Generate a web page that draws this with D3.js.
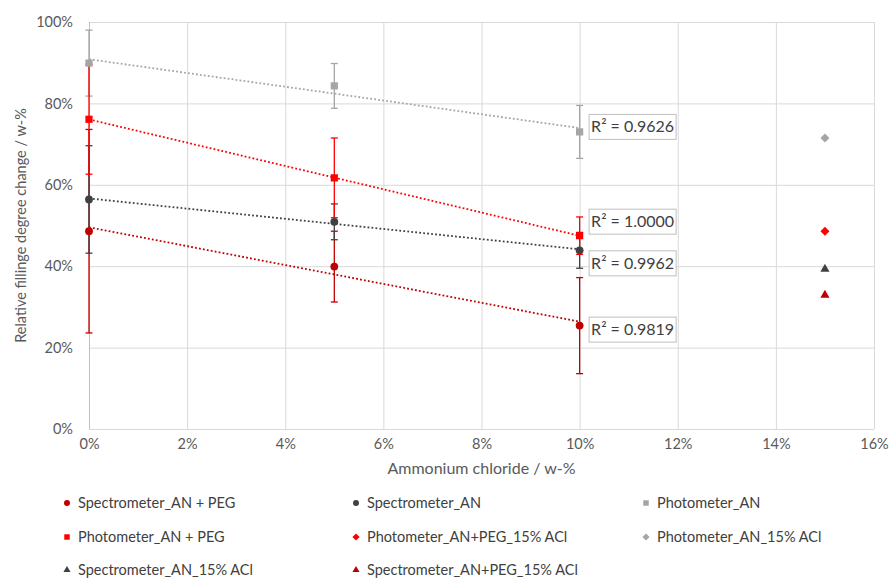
<!DOCTYPE html>
<html>
<head>
<meta charset="utf-8">
<script src="https://cdn.jsdelivr.net/npm/d3@7"></script>
<style>
  html, body { margin: 0; padding: 0; background: #fff; }
  svg { display: block; font-family: Lato, "Open Sans", sans-serif; }
</style>
</head>
<body>
<svg id="chart" width="889" height="579"></svg>
<script>
// ---- data ----
const xValues = [0, 5, 10];                 // ammonium chloride, %
const specPEG      = [48.6, 39.9, 25.4];
const specPEGErr   = [25.0, 8.7, 11.8];
const specAN       = [56.4, 50.9, 43.9];
const specANErr    = [13.2, 4.4, 4.4];
const photoAN      = [89.9, 84.3, 73.0];
const photoANErr   = [8.1, 5.5, 6.5];
const photoPEG     = [76.1, 61.7, 47.5];
const photoPEGErr  = [13.5, 9.8, 4.6];
const x15 = 15;
const photoPEG15 = 48.6;
const photoAN15  = 71.5;
const specAN15   = 39.3;
const specPEG15  = 32.9;
const rSquaredLabels = ["R² = 0.9819", "R² = 0.9962", "R² = 0.9626", "R² = 1.0000"];
const xTicks = [0, 2, 4, 6, 8, 10, 12, 14, 16];
const yTicks = [0, 20, 40, 60, 80, 100];
const legendLabels = [
  "Spectrometer_AN + PEG", "Spectrometer_AN", "Photometer_AN",
  "Photometer_AN + PEG", "Photometer_AN+PEG_15% ACl", "Photometer_AN_15% ACl",
  "Spectrometer_AN_15% ACl", "Spectrometer_AN+PEG_15% ACl"
];

// ---- layout ----
const m = { left: 89, right: 874, top: 22, bottom: 429 };
const x = d3.scaleLinear().domain([0, 16]).range([m.left, m.right]);
const y = d3.scaleLinear().domain([0, 100]).range([m.bottom, m.top]);

const C = { darkRed: "#C00000", red: "#FF0000", gray: "#A5A5A5", dark: "#404040" };
const svg = d3.select("#chart");

// gridlines
const grid = svg.append("g");
grid.selectAll("line.h").data(yTicks).join("line")
  .attr("x1", m.left).attr("x2", m.right)
  .attr("y1", d => y(d) + 0.5).attr("y2", d => y(d) + 0.5)
  .attr("stroke", "#D9D9D9").attr("stroke-width", 1);
grid.selectAll("line.v").data(xTicks).join("line")
  .attr("y1", m.top).attr("y2", m.bottom)
  .attr("x1", d => x(d) + 0.5).attr("x2", d => x(d) + 0.5)
  .attr("stroke", "#D9D9D9").attr("stroke-width", 1);

// axes (labels only)
const xAxis = svg.append("g").attr("transform", `translate(0,${m.bottom})`)
  .call(d3.axisBottom(x).tickValues(xTicks).tickFormat(d => d + "%").tickSize(0).tickPadding(10));
const yAxis = svg.append("g").attr("transform", `translate(${m.left},0)`)
  .call(d3.axisLeft(y).tickValues(yTicks).tickFormat(d => d + "%").tickSize(0).tickPadding(16));
[xAxis, yAxis].forEach(a => {
  a.select(".domain").remove();
  a.selectAll("text").attr("fill", "#595959").style("font-size", "14.5px").style("font-family", "Lato, sans-serif");
});
svg.append("line").attr("x1", m.left + 0.5).attr("x2", m.left + 0.5).attr("y1", m.top).attr("y2", m.bottom)
  .attr("stroke", "#BFBFBF");
svg.append("line").attr("x1", m.left).attr("x2", m.right).attr("y1", m.bottom + 0.5).attr("y2", m.bottom + 0.5)
  .attr("stroke", "#D9D9D9");

// axis titles
svg.append("text").attr("x", (m.left + m.right) / 2).attr("y", 474)
  .attr("text-anchor", "middle").attr("fill", "#595959").style("font-size", "16px")
  .text("Ammonium chloride / w-%");
svg.append("text").attr("transform", `translate(26,${(m.top + m.bottom) / 2}) rotate(-90)`)
  .attr("text-anchor", "middle").attr("fill", "#595959").style("font-size", "14.5px")
  .text("Relative fillinge degree change / w-%");

// series definitions
const series = [
  { vals: specPEG, err: specPEGErr, color: C.darkRed, shape: "circle", r2: rSquaredLabels[0], dy: 4 },
  { vals: specAN, err: specANErr, color: C.dark, shape: "circle", r2: rSquaredLabels[1], dy: 13 },
  { vals: photoAN, err: photoANErr, color: C.gray, shape: "square", r2: rSquaredLabels[2], dy: -5 },
  { vals: photoPEG, err: photoPEGErr, color: C.red, shape: "square", r2: rSquaredLabels[3], dy: -14 }
];

function fit(xs, ys) {
  const n = xs.length, mx = d3.mean(xs), my = d3.mean(ys);
  let sxy = 0, sxx = 0;
  for (let i = 0; i < n; i++) { sxy += (xs[i] - mx) * (ys[i] - my); sxx += (xs[i] - mx) ** 2; }
  const b = sxy / sxx; return { a: my - b * mx, b };
}

const diamondType = {
  draw(ctx, size) {
    const r = Math.sqrt(size / 2);
    ctx.moveTo(0, -r); ctx.lineTo(r, 0); ctx.lineTo(0, r); ctx.lineTo(-r, 0); ctx.closePath();
  }
};
const symbolPath = (shape, size) => {
  const t = { circle: d3.symbolCircle, square: d3.symbolSquare, diamond: diamondType, triangle: d3.symbolTriangle }[shape];
  return d3.symbol().type(t).size(size)();
};
const sizes = { circle: 48, square: 52, diamond: 40, triangle: 36 };

// trendlines
series.forEach(s => {
  const f = fit(xValues, s.vals);
  svg.append("line")
    .attr("x1", x(0)).attr("y1", y(f.a))
    .attr("x2", x(10)).attr("y2", y(f.a + f.b * 10))
    .attr("stroke", s.color).attr("stroke-width", 1.8).attr("stroke-dasharray", "1.8,2.2");
});

// error bars (all series first)
series.forEach(s => {
  const g = svg.append("g");
  xValues.forEach((xv, i) => {
    const cx = x(xv), lo = y(s.vals[i] - s.err[i]), hi = y(s.vals[i] + s.err[i]);
    g.append("line").attr("x1", cx).attr("x2", cx).attr("y1", lo).attr("y2", hi)
      .attr("stroke", s.color).attr("stroke-width", 1.3);
    [lo, hi].forEach(yy => g.append("line").attr("x1", cx - 3.5).attr("x2", cx + 3.5)
      .attr("y1", yy).attr("y2", yy).attr("stroke", s.color).attr("stroke-width", 1.3));
  });
});
// markers
series.forEach(s => {
  svg.append("g").selectAll("path").data(s.vals).join("path")
    .attr("d", symbolPath(s.shape, sizes[s.shape]))
    .attr("transform", (d, i) => `translate(${x(xValues[i])},${y(d)})`)
    .attr("fill", s.color);
});

// 15% points
const singles = [
  { v: photoPEG15, color: C.red, shape: "diamond" },
  { v: photoAN15, color: C.gray, shape: "diamond" },
  { v: specAN15, color: C.dark, shape: "triangle" },
  { v: specPEG15, color: C.darkRed, shape: "triangle" }
];
singles.forEach(p => svg.append("path").attr("d", symbolPath(p.shape, sizes[p.shape]))
  .attr("transform", `translate(${x(x15)},${y(p.v)})`).attr("fill", p.color));

// R² labels
series.forEach(s => {
  const cy = y(s.vals[2]) + s.dy;
  const bx = x(10) + 9;
  svg.append("rect").attr("x", bx + 0.5).attr("y", cy - 12.5).attr("width", 87).attr("height", 25)
    .attr("fill", "#fff").attr("stroke", "#BFBFBF").attr("stroke-width", 1);
  svg.append("text").attr("x", bx + 44).attr("y", cy + 5.5).attr("text-anchor", "middle")
    .attr("fill", "#404040").style("font-size", "16px").text(s.r2);
});

// legend
const legendItems = [
  { shape: "circle", color: C.darkRed }, { shape: "circle", color: C.dark }, { shape: "square", color: C.gray },
  { shape: "square", color: C.red }, { shape: "diamond", color: C.red }, { shape: "diamond", color: C.gray },
  { shape: "triangle", color: C.dark }, { shape: "triangle", color: C.darkRed }
];
const colX = [67, 356, 646], rowY = [503, 537, 570];
const legend = svg.append("g");
legendItems.forEach((it, i) => {
  const cx = colX[i % 3], cy = rowY[Math.floor(i / 3)];
  const lsz = { circle: 28, square: 30, diamond: 26, triangle: 22 }[it.shape];
  legend.append("path").attr("d", symbolPath(it.shape, lsz))
    .attr("transform", `translate(${cx},${cy})`).attr("fill", it.color);
  legend.append("text").attr("x", cx + 11).attr("y", cy + 5).attr("fill", "#404040")
    .style("font-size", "14.5px").text(legendLabels[i]);
});
</script>
</body>
</html>
